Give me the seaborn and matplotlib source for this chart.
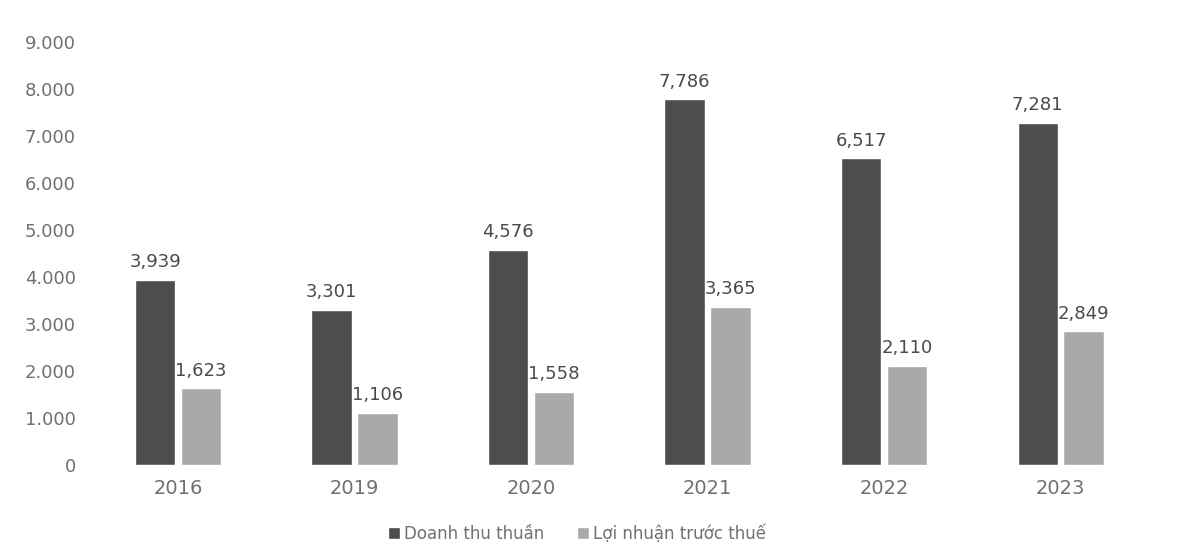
import pandas as pd
import matplotlib.pyplot as plt
import seaborn as sns
from matplotlib.ticker import FuncFormatter

# Data
years = ["2016", "2019", "2020", "2021", "2022", "2023"]
doanh_thu = [3939, 3301, 4576, 7786, 6517, 7281]
loi_nhuan = [1623, 1106, 1558, 3365, 2110, 2849]
series_names = ["Doanh thu thuần", "Lợi nhuận trước thuế"]

df = pd.DataFrame({
    "year": years * 2,
    "value": doanh_thu + loi_nhuan,
    "series": [series_names[0]] * len(years) + [series_names[1]] * len(years),
})

sns.set_style("white")
plt.rcParams["font.family"] = ["DejaVu Sans"]

text_color = "#707070"
fig = plt.figure(figsize=(11.82, 5.5), dpi=100)
ax = fig.add_axes([0.076, 0.155, 0.896, 0.769])

sns.barplot(data=df, x="year", y="value", hue="series",
            palette=["#4b4e4c", "#a9a9a9"], width=0.52, gap=0.12,
            saturation=1, ax=ax, legend=True)

for cont in ax.containers:
    ax.bar_label(cont, labels=[f"{v:,.0f}" for v in cont.datavalues],
                 padding=6, fontsize=13, color="#4a4a4a")

ax.set_ylim(0, 9000)
ax.set_yticks(range(0, 9001, 1000))
ax.yaxis.set_major_formatter(FuncFormatter(lambda v, p: f"{v:,.0f}".replace(",", ".")))
ax.set_xlabel("")
ax.set_ylabel("")
ax.tick_params(axis="y", labelsize=13, colors=text_color, length=0, pad=10)
ax.tick_params(axis="x", labelsize=14, colors=text_color, length=0, pad=10)
sns.despine(ax=ax, left=True, bottom=True)
ax.axhline(0, color="#dddddd", lw=0.8, ls=":")

ax.legend(loc="upper center", bbox_to_anchor=(0.46, -0.105), ncol=2, frameon=False,
          fontsize=12, handlelength=0.7, handleheight=0.7, handletextpad=0.25,
          columnspacing=2.0, labelcolor=text_color)

fig.savefig("out.png", dpi=100)
